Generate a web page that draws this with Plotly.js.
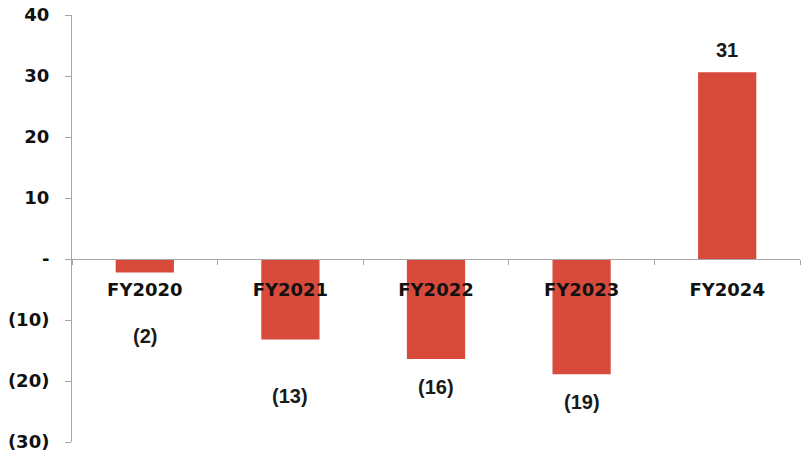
<!DOCTYPE html>
<html>
<head>
<meta charset="utf-8">
<script src="https://cdn.plot.ly/plotly-3.0.1.min.js"></script>
<style>html,body{margin:0;padding:0;background:#fff;}#chart{width:802px;height:458px;}</style>
</head>
<body>
<div id="chart"></div>
<script>
// Data
const categories = ["FY2020", "FY2021", "FY2022", "FY2023", "FY2024"];
const values = [-2.2, -13.2, -16.4, -18.9, 30.6];
const valueLabels = ["(2)", "(13)", "(16)", "(19)", "31"];
const yTickValues = [-30, -20, -10, 0, 10, 20, 30, 40];
const yTickLabels = ["(30)", "(20)", "(10)", "-", "10", "20", "30", "40"];

// Style: pixel offsets of value labels from bar ends
const labelShift = [-64, -56, -28, -28, 22];

const barColor = "#D84B3C";
const axisColor = "#A6A6A6";

const trace = {
  type: "bar",
  x: categories,
  y: values,
  marker: {color: barColor},
  width: 0.4,
  hoverinfo: "none"
};

const annotations = categories.map((c, i) => ({
  x: c,
  y: values[i],
  xref: "x",
  yref: "y",
  text: "<b>" + valueLabels[i] + "</b>",
  showarrow: false,
  yanchor: "middle",
  xanchor: "center",
  yshift: labelShift[i],
  font: {family: "Liberation Sans, Arial, sans-serif", size: 20, color: "#1a1a1a"}
}));

const layout = {
  width: 802,
  height: 458,
  margin: {l: 72, r: 2, t: 15, b: 16},
  paper_bgcolor: "#ffffff",
  plot_bgcolor: "#ffffff",
  showlegend: false,
  xaxis: {
    type: "category",
    anchor: "free",
    position: 30 / 70,
    showline: true,
    linecolor: axisColor,
    linewidth: 1,
    ticks: "outside",
    tickson: "boundaries",
    ticklen: 5,
    tickcolor: axisColor,
    showgrid: false,
    zeroline: false,
    tickfont: {family: "DejaVu Sans, sans-serif", size: 18, color: "#111111", weight: "bold"},
    ticklabelstandoff: 14,
    range: [-0.5, 4.5],
    fixedrange: true
  },
  yaxis: {
    range: [-30, 40],
    tickmode: "array",
    tickvals: yTickValues,
    ticktext: yTickLabels,
    showline: true,
    linecolor: axisColor,
    linewidth: 1,
    ticks: "outside",
    ticklen: 6,
    tickcolor: axisColor,
    showgrid: false,
    zeroline: false,
    tickfont: {family: "DejaVu Sans, sans-serif", size: 18, color: "#111111", weight: "bold"},
    ticklabelstandoff: 12,
    fixedrange: true
  },
  annotations: annotations
};

Plotly.newPlot("chart", [trace], layout, {displayModeBar: false, staticPlot: true});
</script>
</body>
</html>
